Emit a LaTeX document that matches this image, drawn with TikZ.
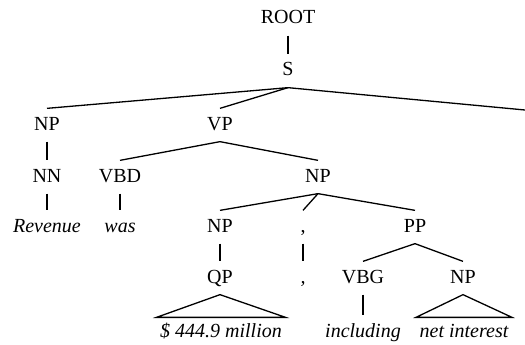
\documentclass[tikz,border=0pt]{standalone}
\usepackage{fontspec}
\setmainfont{Liberation Serif}

\begin{document}
\begin{tikzpicture}[x=1pt, y=-1pt, line width=1.3pt,
  cat/.style={inner xsep=2pt, inner ysep=8pt, text height=13pt, text depth=3pt, font=\fontsize{20}{23}\selectfont},
  leaf/.style={cat, font=\fontsize{20}{23}\selectfont\itshape},
  phrase/.style={leaf, inner xsep=3pt, inner ysep=6pt}
]
  \useasboundingbox (0,0) rectangle (525,345);

  % Top
  \node[cat] (root) at (288,19) {ROOT};
  \node[cat] (s) at (288,71) {S};
  \coordinate (cut) at (525,110);

  % Subject
  \node[cat] (np1) at (47,125) {NP};
  \node[cat] (nn) at (47,177) {NN};
  \node[leaf] (revenue) at (47,227) {Revenue};

  % Predicate
  \node[cat] (vp) at (220,125) {VP};
  \node[cat] (vbd) at (120,177) {VBD};
  \node[leaf] (was) at (120,227) {was};
  \node[cat] (np2) at (318,177) {NP};
  \node[cat] (np3) at (220,227) {NP};
  \node[cat] (comma1) at (303,227) {,};
  \node[cat] (pp) at (415,227) {PP};
  \node[cat] (qp) at (220,278) {QP};
  \node[leaf] (comma2) at (303,278) {,};
  \node[cat] (vbg) at (363,278) {VBG};
  \node[cat] (np4) at (463,278) {NP};
  \node[phrase] (amount) at (221,332) {\$ 444.9 million};
  \node[leaf] (including) at (363,332) {including};
  \node[phrase] (interest) at (464,332) {net interest};

  \draw (root.south) -- (s.north);
  \draw (s.south) -- (np1.north);
  \draw (s.south) -- (vp.north);
  \draw (s.south) -- (cut);
  \draw (np1.south) -- (nn.north);
  \draw (nn.south) -- (revenue.north);
  \draw (vp.south) -- (vbd.north);
  \draw (vp.south) -- (np2.north);
  \draw (vbd.south) -- (was.north);
  \draw (np2.south) -- (np3.north);
  \draw (np2.south) -- (comma1.north);
  \draw (np2.south) -- (pp.north);
  \draw (np3.south) -- (qp.north);
  \draw (comma1.south) -- (comma2.north);
  \draw (pp.south) -- (vbg.north);
  \draw (pp.south) -- (np4.north);
  \draw (vbg.south) -- (including.north);

  % Triangles
  \draw (qp.south) -- (amount.north west) -- (amount.north east) -- cycle;
  \draw (np4.south) -- (interest.north west) -- (interest.north east) -- cycle;
\end{tikzpicture}
\end{document}
